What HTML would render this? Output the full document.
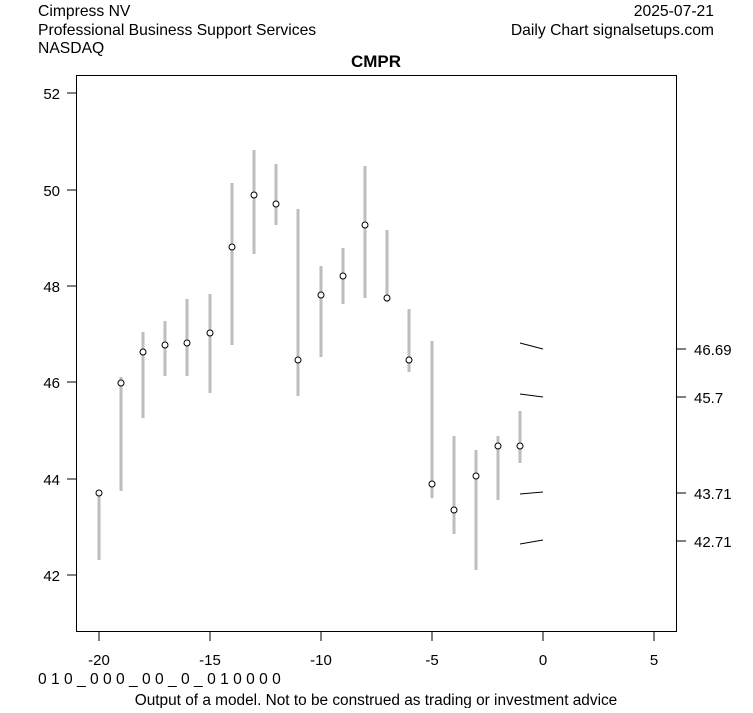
<!DOCTYPE html><html><head><style>body{margin:0;background:#fff}svg text{font-family:"Liberation Sans",Arial,sans-serif}</style></head><body>
<svg width="753" height="708" xmlns="http://www.w3.org/2000/svg">
<rect width="753" height="708" fill="#fff"/>
<g font-size="15.7" fill="#000">
<text x="38" y="16">Cimpress NV</text>
<text x="38" y="35">Professional Business Support Services</text>
<text x="38" y="53">NASDAQ</text>
<text x="714" y="16" text-anchor="end">2025-07-21</text>
<text x="714" y="35" text-anchor="end">Daily Chart signalsetups.com</text>
<text x="376" y="67" text-anchor="middle" font-weight="bold" font-size="17">CMPR</text>
<text x="38" y="684" font-size="15.6">0 1 0 _ 0 0 0 _ 0 0 _ 0 _ 0 1 0 0 0 0</text>
<text x="376" y="705" text-anchor="middle" font-size="15.4">Output of a model. Not to be construed as trading or investment advice</text>
</g>
<rect x="76.5" y="75.5" width="600" height="556" fill="none" stroke="#000"/>
<g stroke="#000">
<path d="M99 632v9M210 632v9M321 632v9M432 632v9M543 632v9M654 632v9"/>
<path d="M76 93h-9M76 190h-9M76 286h-9M76 382h-9M76 479h-9M76 575h-9"/>
<path d="M677 349h9M677 397h9M677 493h9M677 541h9"/>
</g>
<g font-size="15" text-anchor="middle">
<text x="99" y="665">-20</text><text x="210" y="665">-15</text><text x="321" y="665">-10</text><text x="432" y="665">-5</text><text x="543" y="665">0</text><text x="654" y="665">5</text>
</g>
<g font-size="15" text-anchor="end">
<text x="60" y="99">52</text><text x="60" y="196">50</text><text x="60" y="292">48</text><text x="60" y="388">46</text><text x="60" y="485">44</text><text x="60" y="581">42</text>
</g>
<g font-size="15">
<text x="694" y="355">46.69</text><text x="694" y="403">45.7</text><text x="694" y="499">43.71</text><text x="694" y="547">42.71</text>
</g>
<g stroke="#bebebe" stroke-width="3">
<path d="M99 490V560M121 377V491M143 332V418M165 321V376M187 299V376M210 294V393M232 183V345M254 150V254M276 164V225M298 209V396M321 266V357M343 248V304M365 166V298M387 230V302M409 309V372M432 341V498M454 436V534M476 450V570M498 436V500M520 411V463"/>
</g>
<g fill="#fff" stroke="#000" stroke-width="1">
<circle cx="99" cy="493" r="3"/><circle cx="121" cy="383" r="3"/><circle cx="143" cy="352" r="3"/><circle cx="165" cy="345" r="3"/><circle cx="187" cy="343" r="3"/><circle cx="210" cy="333" r="3"/><circle cx="232" cy="247" r="3"/><circle cx="254" cy="195" r="3"/><circle cx="276" cy="204" r="3"/><circle cx="298" cy="360" r="3"/><circle cx="321" cy="295" r="3"/><circle cx="343" cy="276" r="3"/><circle cx="365" cy="225" r="3"/><circle cx="387" cy="298" r="3"/><circle cx="409" cy="360" r="3"/><circle cx="432" cy="484" r="3"/><circle cx="454" cy="510" r="3"/><circle cx="476" cy="476" r="3"/><circle cx="498" cy="446" r="3"/><circle cx="520" cy="446" r="3"/>
</g>
<g stroke="#000" stroke-width="1">
<path d="M520 343L543 349M520 394L543 397M520 494L543 492M520 544L543 540"/>
</g>
</svg></body></html>
